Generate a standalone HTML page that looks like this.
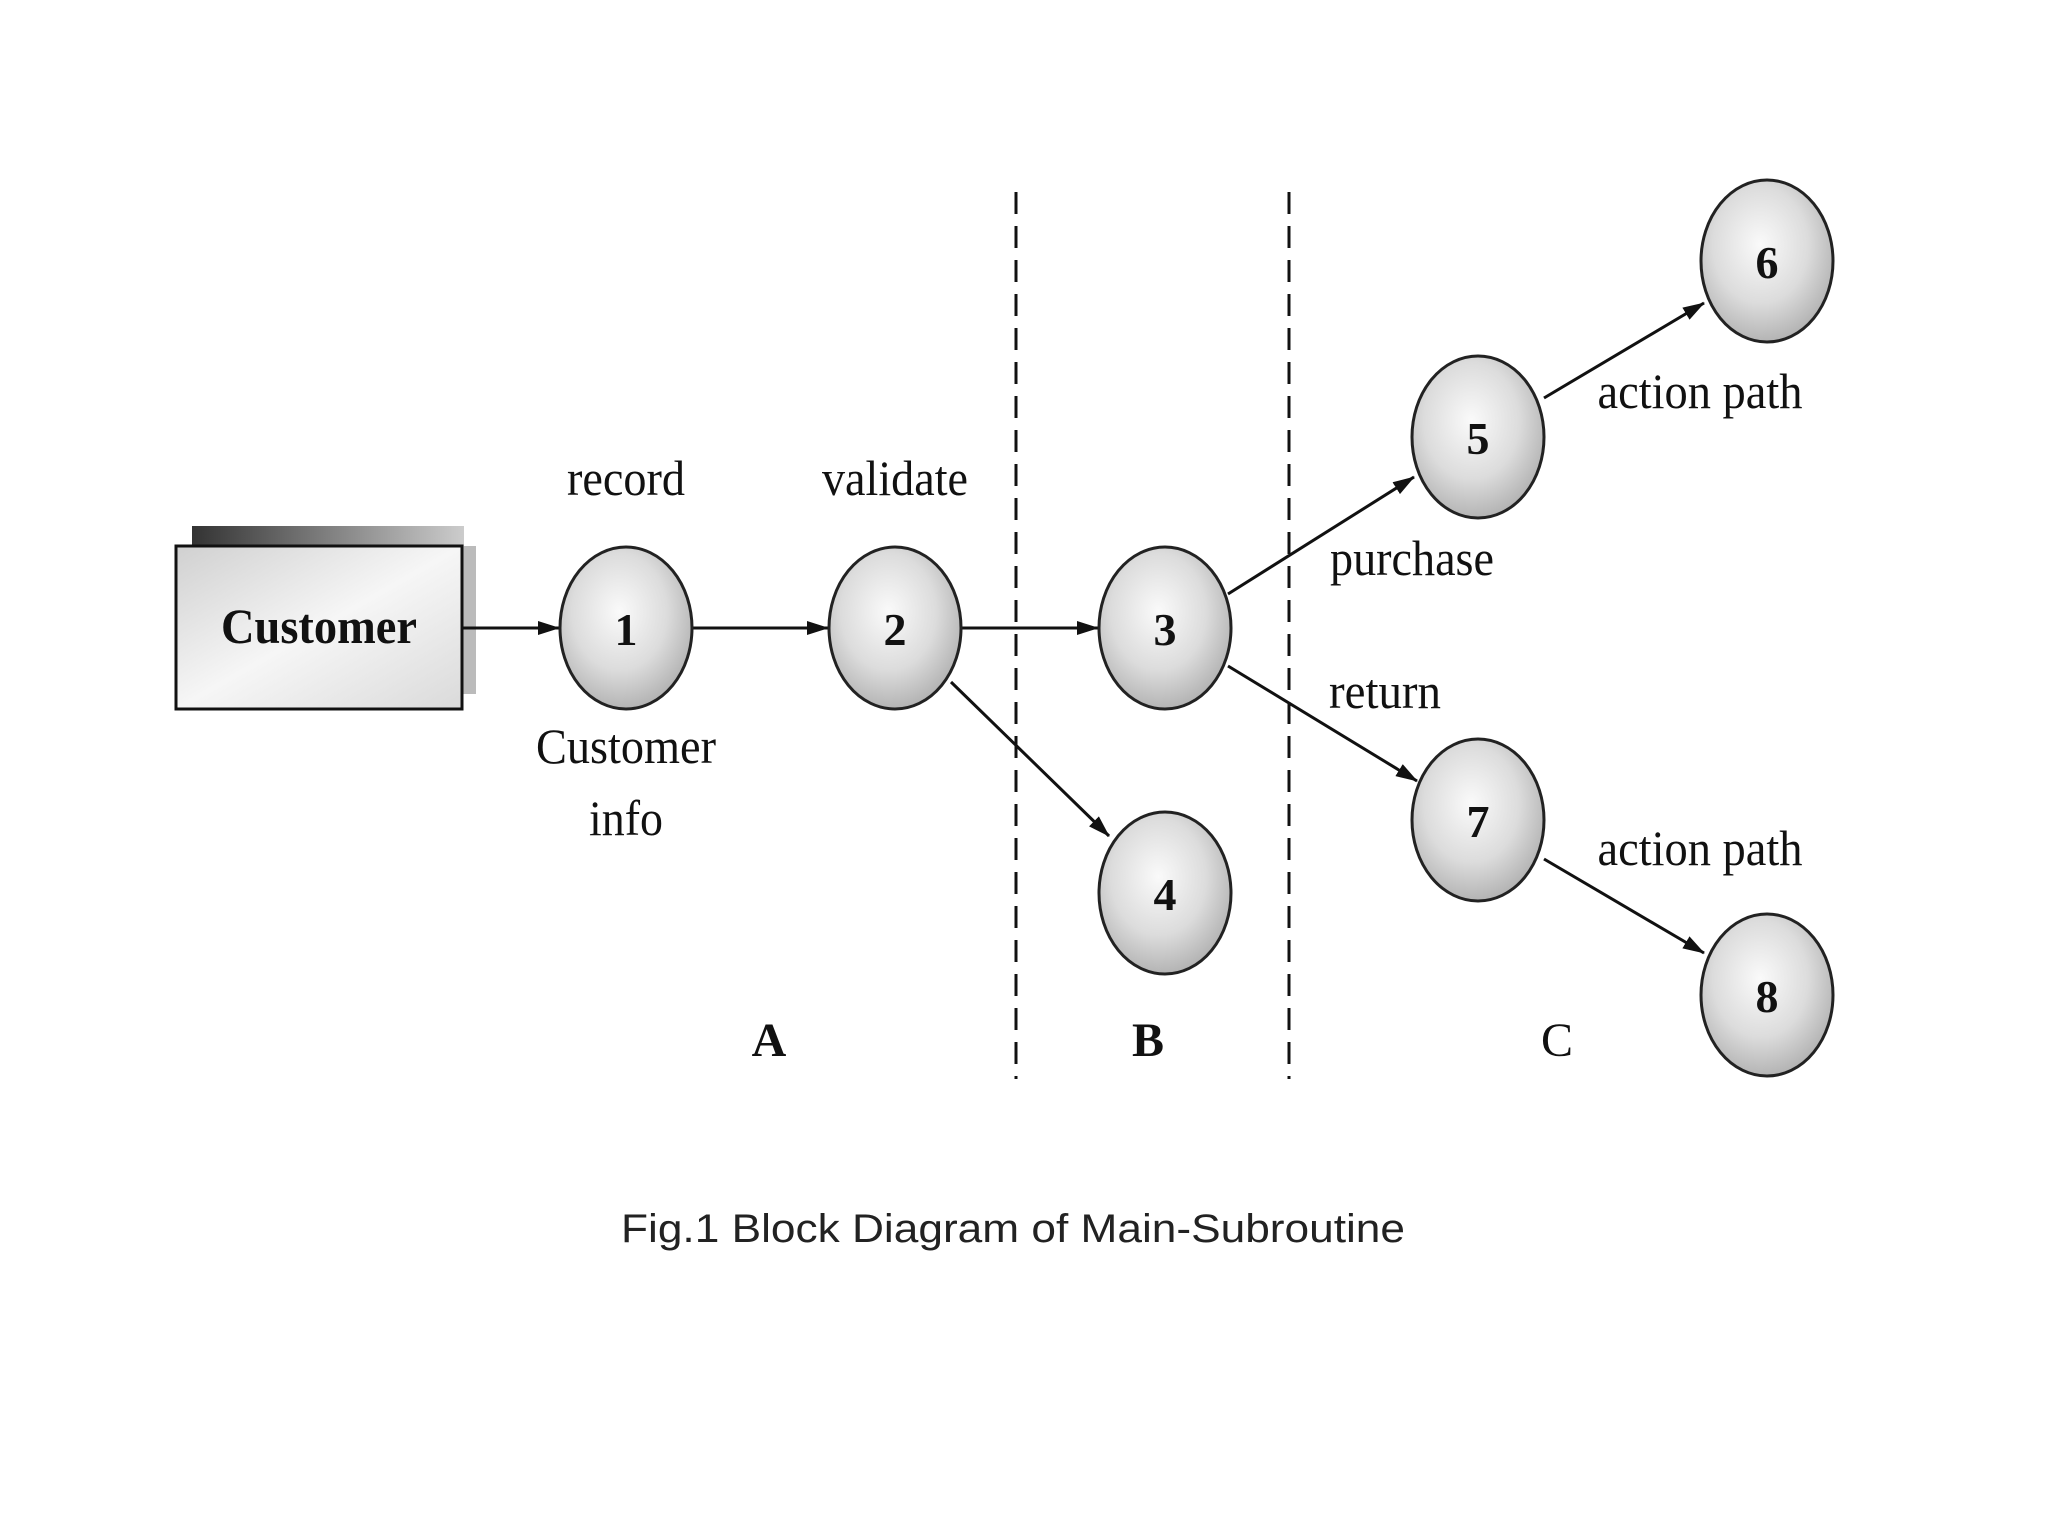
<!DOCTYPE html>
<html><head><meta charset="utf-8"><style>html,body{margin:0;padding:0;background:#fff}svg{display:block}</style></head>
<body>
<svg width="2048" height="1536" viewBox="0 0 2048 1536" xmlns="http://www.w3.org/2000/svg">
<defs>
<radialGradient id="g" cx="45%" cy="40%" r="60%">
<stop offset="0" stop-color="#fafafa"/><stop offset="0.6" stop-color="#dcdcdc"/><stop offset="1" stop-color="#b4b4b4"/>
</radialGradient>
<linearGradient id="bx" x1="0" y1="0" x2="1" y2="1">
<stop offset="0" stop-color="#d0d0d0"/><stop offset="0.5" stop-color="#f6f6f6"/><stop offset="1" stop-color="#dadada"/>
</linearGradient>
<linearGradient id="sh" x1="0" y1="0" x2="1" y2="0">
<stop offset="0" stop-color="#333"/><stop offset="1" stop-color="#ccc"/>
</linearGradient>
<marker id="a" markerWidth="10" markerHeight="8" refX="9" refY="4" orient="auto" markerUnits="userSpaceOnUse" viewBox="0 0 10 8">
<path d="M0,0 L10,4 L0,8 z" fill="#111"/>
</marker>
<marker id="a2" markerWidth="22" markerHeight="14" refX="21" refY="7" orient="auto" markerUnits="userSpaceOnUse" viewBox="0 0 22 14">
<path d="M0,0 L22,7 L0,14 z" fill="#111"/>
</marker>
</defs>
<rect x="192" y="526" width="272" height="22" fill="url(#sh)"/>
<rect x="462" y="546" width="14" height="148" fill="#bbb"/>
<rect x="176" y="546" width="286" height="163" fill="url(#bx)" stroke="#111" stroke-width="3"/>
<text x="319" y="643" font-family="Liberation Serif, serif" font-weight="bold" font-size="50" text-anchor="middle" textLength="196" lengthAdjust="spacingAndGlyphs" fill="#111">Customer</text>
<g stroke="#111" stroke-width="3" fill="none">
<line x1="462" y1="628" x2="559" y2="628" marker-end="url(#a2)"/>
<line x1="693" y1="628" x2="828" y2="628" marker-end="url(#a2)"/>
<line x1="962" y1="628" x2="1098" y2="628" marker-end="url(#a2)"/>
<line x1="951" y1="682" x2="1109" y2="836" marker-end="url(#a2)"/>
<line x1="1228" y1="594" x2="1414" y2="477" marker-end="url(#a2)"/>
<line x1="1228" y1="666" x2="1417" y2="781" marker-end="url(#a2)"/>
<line x1="1544" y1="398" x2="1704" y2="303" marker-end="url(#a2)"/>
<line x1="1544" y1="859" x2="1704" y2="953" marker-end="url(#a2)"/>
</g>
<g stroke="#111" stroke-width="3" stroke-dasharray="22,12">
<line x1="1016" y1="192" x2="1016" y2="1079"/>
<line x1="1289" y1="192" x2="1289" y2="1079"/>
</g>
<g stroke="#222" stroke-width="3" fill="url(#g)">
<ellipse cx="626" cy="628" rx="66" ry="81"/>
<ellipse cx="895" cy="628" rx="66" ry="81"/>
<ellipse cx="1165" cy="628" rx="66" ry="81"/>
<ellipse cx="1165" cy="893" rx="66" ry="81"/>
<ellipse cx="1478" cy="437" rx="66" ry="81"/>
<ellipse cx="1767" cy="261" rx="66" ry="81"/>
<ellipse cx="1478" cy="820" rx="66" ry="81"/>
<ellipse cx="1767" cy="995" rx="66" ry="81"/>
</g>
<g font-family="Liberation Serif, serif" font-weight="bold" font-size="46" text-anchor="middle" fill="#111">
<text x="626" y="645">1</text><text x="895" y="645">2</text><text x="1165" y="645">3</text>
<text x="1165" y="910">4</text><text x="1478" y="454">5</text><text x="1767" y="278">6</text>
<text x="1478" y="837">7</text><text x="1767" y="1012">8</text>
</g>
<g font-family="Liberation Serif, serif" font-size="50" text-anchor="middle" fill="#111" lengthAdjust="spacingAndGlyphs">
<text x="626" y="495" textLength="118" lengthAdjust="spacingAndGlyphs">record</text>
<text x="895" y="495" textLength="146" lengthAdjust="spacingAndGlyphs">validate</text>
<text x="626" y="763" textLength="180" lengthAdjust="spacingAndGlyphs">Customer</text>
<text x="626" y="835" textLength="74" lengthAdjust="spacingAndGlyphs">info</text>
<text x="1412" y="575" textLength="164" lengthAdjust="spacingAndGlyphs">purchase</text>
<text x="1385" y="708" textLength="112" lengthAdjust="spacingAndGlyphs">return</text>
<text x="1700" y="408" textLength="205" lengthAdjust="spacingAndGlyphs">action path</text>
<text x="1700" y="865" textLength="205" lengthAdjust="spacingAndGlyphs">action path</text>
</g>
<g font-family="Liberation Serif, serif" font-size="48" text-anchor="middle" fill="#111">
<text x="769" y="1056" font-weight="bold">A</text>
<text x="1148" y="1056" font-weight="bold">B</text>
<text x="1557" y="1056">C</text>
</g>
<text x="1013" y="1242" font-family="Liberation Sans, sans-serif" font-size="40" text-anchor="middle" textLength="784" lengthAdjust="spacingAndGlyphs" fill="#222">Fig.1 Block Diagram of Main-Subroutine</text>
</svg>
</body></html>
